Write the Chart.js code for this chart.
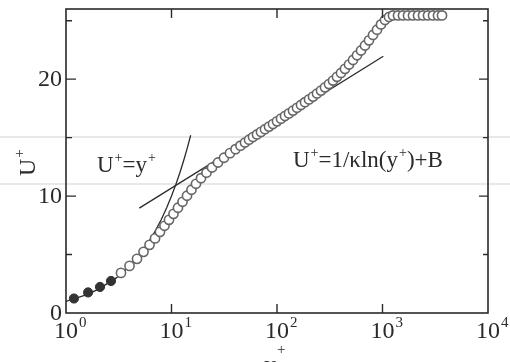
<!DOCTYPE html>
<html>
<head>
<meta charset="utf-8">
<script src="https://cdn.jsdelivr.net/npm/chart.js@4.4.0/dist/chart.umd.min.js"></script>
<style>
  html, body { margin: 0; padding: 0; background: #fff; }
  #wrap { width: 510px; height: 362px; }
</style>
</head>
<body>
<div id="wrap"><canvas id="grafico" width="510" height="362"></canvas></div>
<script>
// velocity profile (y+ , U+)
const yPlusFilled = [1.19, 1.62, 2.10, 2.67];
const uPlusFilled = [1.24, 1.76, 2.23, 2.74];

const yPlusOpen = [3.32, 4.00, 4.71, 5.43, 6.19, 6.98, 7.78, 8.58, 9.47, 10.45,
  11.52, 12.72, 14.03, 15.47, 17.07, 19.04, 21.47, 24.21, 27.60, 31.45,
  35.85, 40.44, 45.08, 49.74, 54.29, 59.23, 64.62, 70.52, 76.96, 84.00,
  91.65, 100.0, 109.1, 119.1, 129.9, 141.8, 154.7, 168.8, 184.2, 201.1,
  219.4, 239.4, 261.3, 285.1, 311.1, 339.5, 370.4, 404.2, 441.1, 481.5,
  525.4, 573.3, 625.6, 682.6, 744.7, 812.8, 887.0, 967.8, 1056, 1152,
  1257, 1403, 1564, 1745, 1946, 2171, 2421, 2700, 3011, 3358, 3664];
const uPlusOpen = [3.43, 4.03, 4.63, 5.23, 5.83, 6.38, 6.94, 7.46, 7.97, 8.48,
  9.00, 9.51, 10.03, 10.54, 11.05, 11.53, 12.00, 12.44, 12.87, 13.28,
  13.67, 14.01, 14.31, 14.58, 14.82, 15.05, 15.27, 15.49, 15.72, 15.94,
  16.16, 16.39, 16.62, 16.85, 17.07, 17.31, 17.55, 17.79, 18.03, 18.27,
  18.51, 18.77, 19.02, 19.30, 19.58, 19.88, 20.20, 20.53, 20.88, 21.25,
  21.64, 22.04, 22.45, 22.88, 23.32, 23.78, 24.23, 24.68, 25.06, 25.32,
  25.45, 25.45, 25.45, 25.45, 25.45, 25.45, 25.45, 25.45, 25.45, 25.45, 25.45];

// reference lines drawn in the figure
const viscousY = [1, 1.5, 2, 3, 4, 5, 6, 7, 8, 9, 10, 11, 12, 13, 14, 15.2];
const viscousU = [1, 1.5, 2, 3, 4, 5, 6, 7, 8, 9, 10, 11, 12, 13, 14, 15.2];
const logLawY = [4.95, 1018];
const logLawU = [8.97, 21.96];

// axes
const xTicks = [1, 10, 100, 1000, 10000];
const xTickExp = ['0', '1', '2', '3', '4'];
const yTicksMajor = [0, 10, 20];
const yTicksMinor = [5, 15, 25];

const toPoints = (xs, ys) => xs.map((x, i) => ({ x: x, y: ys[i] }));

const SERIF = '"Liberation Serif", "DejaVu Serif", serif';
const INK = '#2a2a2a';

// text with a superscript part
function textoSup(ctx, base, sup, x, y, size, supSize, supRise) {
    ctx.font = size + 'px ' + SERIF;
    ctx.fillText(base, x, y);
    const w = ctx.measureText(base).width;
    ctx.font = supSize + 'px ' + SERIF;
    ctx.fillText(sup, x + w + 1, y - supRise);
    return w + 1 + ctx.measureText(sup).width;
}

const artefatos = {
    id: 'artefatos',
    beforeDraw(chart) {
        const ctx = chart.ctx;
        ctx.save();
        ctx.strokeStyle = '#e8e8e8';
        ctx.lineWidth = 2;
        [137, 184].forEach(y => {
            ctx.beginPath();
            ctx.moveTo(0, y);
            ctx.lineTo(chart.width, y);
            ctx.stroke();
        });
        ctx.restore();
    }
};

const moldura = {
    id: 'moldura',
    afterDraw(chart) {
        const ctx = chart.ctx;
        const a = chart.chartArea;
        const xs = chart.scales.x;
        const ys = chart.scales.y;
        ctx.save();
        ctx.strokeStyle = INK;
        ctx.lineWidth = 1.6;
        ctx.strokeRect(a.left, a.top, a.right - a.left, a.bottom - a.top);

        // inward ticks
        ctx.lineWidth = 1.4;
        ctx.beginPath();
        xTicks.slice(1, -1).forEach(v => {
            const px = xs.getPixelForValue(v);
            ctx.moveTo(px, a.bottom); ctx.lineTo(px, a.bottom - 9);
            ctx.moveTo(px, a.top); ctx.lineTo(px, a.top + 9);
        });
        yTicksMajor.slice(1).forEach(v => {
            const py = ys.getPixelForValue(v);
            ctx.moveTo(a.left, py); ctx.lineTo(a.left + 10, py);
            ctx.moveTo(a.right, py); ctx.lineTo(a.right - 9, py);
        });
        yTicksMinor.forEach(v => {
            const py = ys.getPixelForValue(v);
            ctx.moveTo(a.left, py); ctx.lineTo(a.left + 6, py);
            ctx.moveTo(a.right, py); ctx.lineTo(a.right - 5, py);
        });
        ctx.stroke();

        ctx.fillStyle = INK;
        ctx.textBaseline = 'alphabetic';

        // x tick labels 10^n
        xTicks.forEach((v, i) => {
            const px = xs.getPixelForValue(v);
            ctx.font = '24px ' + SERIF;
            const w = ctx.measureText('10').width;
            ctx.textAlign = 'left';
            textoSup(ctx, '10', xTickExp[i], px - w / 2, 338, 24, 15, 11);
        });

        // y tick labels
        ctx.font = '24px ' + SERIF;
        ctx.textAlign = 'right';
        ctx.textBaseline = 'middle';
        yTicksMajor.forEach(v => {
            ctx.fillText(String(v), a.left - 4, ys.getPixelForValue(v) + 1);
        });

        // axis titles
        ctx.textAlign = 'left';
        ctx.textBaseline = 'alphabetic';
        textoSup(ctx, 'y', '+', 264, 372, 24, 15, 18);

        ctx.save();
        ctx.translate(35, 176);
        ctx.rotate(-Math.PI / 2);
        textoSup(ctx, 'U', '+', 0, 0, 24, 15, 11);
        ctx.restore();

        // annotations
        let x = 97;
        x += textoSup(ctx, 'U', '+', x, 172, 23, 14, 10);
        x += textoSup(ctx, '=y', '+', x, 172, 23, 14, 10);

        x = 293;
        x += textoSup(ctx, 'U', '+', x, 167, 23, 14, 10);
        x += textoSup(ctx, '=1/\u03baln(y', '+', x, 167, 23, 14, 10);
        ctx.font = '23px ' + SERIF;
        ctx.fillText(')+B', x, 167);

        ctx.restore();
    }
};

new Chart(document.getElementById('grafico'), {
    type: 'scatter',
    data: {
        datasets: [
            {
                label: 'U+=y+',
                data: toPoints(viscousY, viscousU),
                showLine: true,
                pointRadius: 0,
                borderColor: INK,
                borderWidth: 1.3,
                order: 3
            },
            {
                label: 'log law',
                data: toPoints(logLawY, logLawU),
                showLine: true,
                pointRadius: 0,
                borderColor: INK,
                borderWidth: 1.3,
                order: 3
            },
            {
                label: 'filled',
                data: toPoints(yPlusFilled, uPlusFilled),
                pointRadius: 4.6,
                pointBackgroundColor: '#333',
                pointBorderColor: '#333',
                pointBorderWidth: 1,
                order: 1
            },
            {
                label: 'open',
                data: toPoints(yPlusOpen, uPlusOpen),
                pointRadius: 4.6,
                pointBackgroundColor: '#fff',
                pointBorderColor: '#666',
                pointBorderWidth: 1.6,
                order: 2
            }
        ]
    },
    options: {
        responsive: false,
        animation: false,
        layout: { padding: { left: 66, right: 22, top: 9, bottom: 49 } },
        scales: {
            x: { type: 'logarithmic', min: 1, max: 10000, display: false },
            y: { type: 'linear', min: 0, max: 26, display: false }
        },
        plugins: {
            legend: { display: false },
            tooltip: { enabled: false }
        }
    },
    plugins: [artefatos, moldura]
});
</script>
</body>
</html>
